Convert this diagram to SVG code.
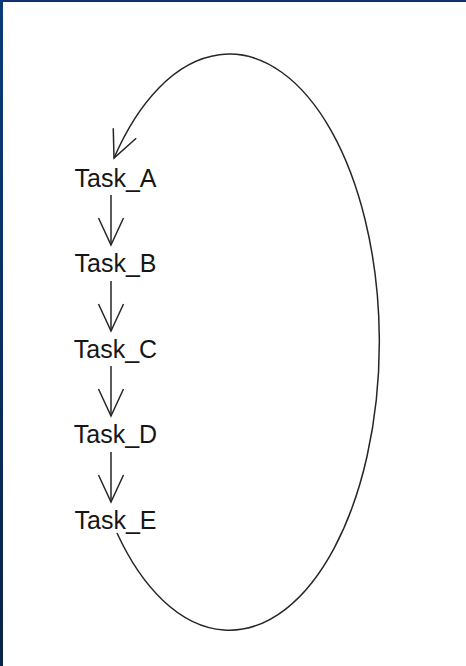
<svg xmlns="http://www.w3.org/2000/svg" width="466" height="666" viewBox="0 0 466 666">
<style>
.lbl{font-family:"Liberation Sans",Arial,sans-serif;font-size:25px;fill:#161616;text-anchor:middle}
.edge{fill:none;stroke:#262626;stroke-width:1.5}
</style>
<defs>
<linearGradient id="lb" x1="0" y1="0" x2="0" y2="1">
<stop offset="0" stop-color="#0b3a78"/>
<stop offset="1" stop-color="#0a2348"/>
</linearGradient>
<marker id="ah" markerUnits="userSpaceOnUse" markerWidth="40" markerHeight="40" refX="0" refY="0" viewBox="-30 -20 40 40" orient="auto" overflow="visible">
<path d="M-27,-12.5 L0,0 L-27,12.5" fill="none" stroke="#262626" stroke-width="1.5"/>
</marker>
</defs>
<rect width="466" height="666" fill="#ffffff"/>
<rect x="0" y="0" width="466" height="2" fill="#0b3370"/>
<rect x="0" y="0" width="3" height="666" fill="url(#lb)"/>
<g id="connectors">
<path class="edge" d="M111,195 L111,245" marker-end="url(#ah)"/>
<path class="edge" d="M111,281 L111,331" marker-end="url(#ah)"/>
<path class="edge" d="M111,366 L111,416" marker-end="url(#ah)"/>
<path class="edge" d="M111,452 L111,502" marker-end="url(#ah)"/>
<path class="edge" d="M117,533 A150,288 0 1 0 114,158" marker-end="url(#ah)"/>
</g>
<g id="Task_A"><text class="lbl" x="115.5" y="186.5">Task_A</text></g>
<g id="Task_B"><text class="lbl" x="115.5" y="272">Task_B</text></g>
<g id="Task_C"><text class="lbl" x="115.5" y="357.5">Task_C</text></g>
<g id="Task_D"><text class="lbl" x="115.5" y="443">Task_D</text></g>
<g id="Task_E"><text class="lbl" x="115.5" y="529">Task_E</text></g>
</svg>
